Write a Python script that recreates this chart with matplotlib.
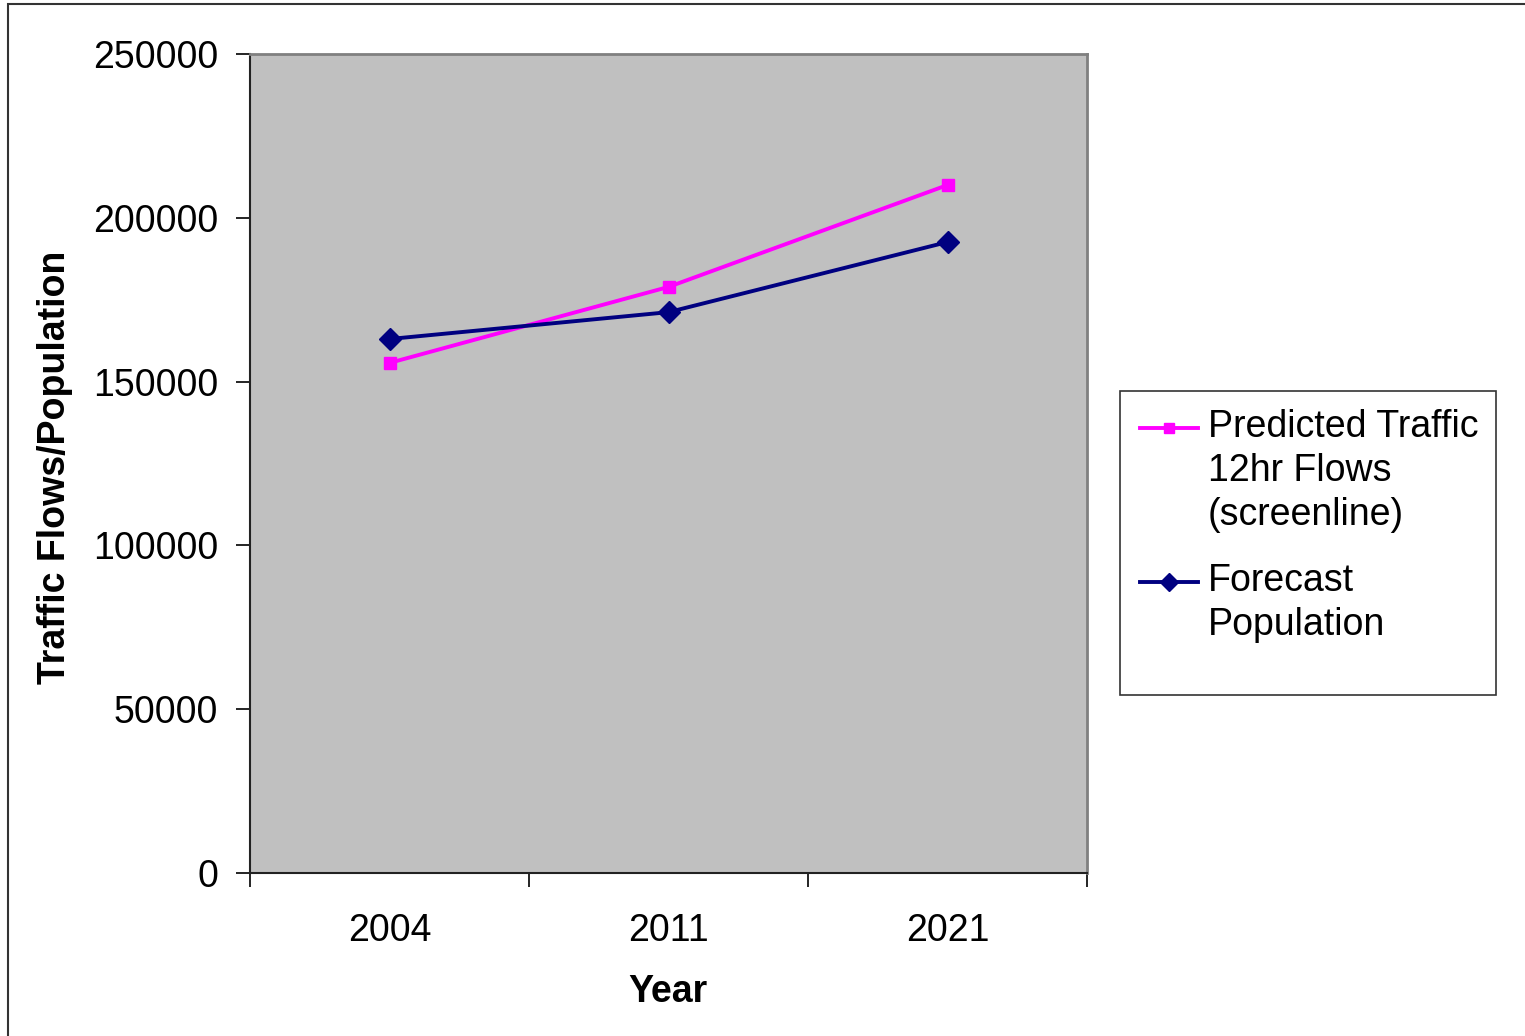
import numpy as np
import matplotlib
matplotlib.use('Agg')
import matplotlib.pyplot as plt
from matplotlib.patches import Rectangle
from matplotlib.legend_handler import HandlerLine2D

plt.rcParams['font.family'] = ['Liberation Sans', 'DejaVu Sans']

## Data
years = ['2004', '2011', '2021']
traffic_flows = [155700, 178900, 210000]
population = [163000, 171200, 192600]
y_ticks = [0, 50000, 100000, 150000, 200000, 250000]

W, H = 1525, 1036
fig = plt.figure(figsize=(W / 100, H / 100), dpi=100, facecolor='white')

# outer chart border (left and top edges visible, rest cut off)
fig.patches.append(Rectangle((8 / W, -0.2), 1.5, 1.2 - 4 / H, transform=fig.transFigure,
                             fill=False, edgecolor='#333333', linewidth=1.5))

ax = fig.add_axes([250 / W, 1 - 873 / H, (1087 - 250) / W, (873 - 54) / H])
ax.set_facecolor('#C0C0C0')

x = np.arange(len(years))
l1, = ax.plot(x, traffic_flows, color='#FF00FF', linewidth=2.8, marker='s', markersize=8.5,
              label='Predicted Traffic\n12hr Flows\n(screenline)')
l2, = ax.plot(x, population, color='#000080', linewidth=2.8, marker='D', markersize=11,
              label='Forecast\nPopulation')

ax.set_xlim(-0.5, len(years) - 0.5)
ax.set_ylim(0, 250000)
ax.set_yticks(y_ticks)
ax.set_yticklabels([str(v) for v in y_ticks])
ax.set_xticks(x)
ax.set_xticklabels(years)
ax.set_xticks(np.arange(len(years) + 1) - 0.5, minor=True)
ax.tick_params(axis='x', which='major', length=0, labelsize=27, pad=29)
ax.tick_params(axis='x', which='minor', length=10, width=1.2, direction='out')
ax.tick_params(axis='y', length=10, width=1.2, labelsize=27, pad=13)

for side in ['top', 'right']:
    ax.spines[side].set_color('#808080')
    ax.spines[side].set_linewidth(2)
for side in ['left', 'bottom']:
    ax.spines[side].set_color('#222222')
    ax.spines[side].set_linewidth(1.5)

fig.text(55 / W, 1 - 467 / H, 'Traffic Flows/Population', rotation=90, fontsize=27,
         fontweight='bold', ha='center', va='center')
fig.text(668 / W, 1 - 992 / H, 'Year', fontsize=27, fontweight='bold',
         ha='center', va='center')


class TopHandler(HandlerLine2D):
    # put the handle on the first text line instead of the block middle
    def __init__(self, nlines, **kw):
        super().__init__(**kw)
        self.nlines = nlines

    def create_artists(self, legend, orig_handle, xdescent, ydescent, width, height, fontsize, trans):
        arts = super().create_artists(legend, orig_handle, xdescent, ydescent, width, height,
                                      fontsize, trans)
        shift = 0.5 * (self.nlines - 1) * 1.16 * fontsize
        for a in arts:
            a.set_ydata(np.asarray(a.get_ydata(), dtype=float) + shift)
        return arts


# legend box
fig.patches.append(Rectangle((1120 / W, 1 - 695 / H), (1496 - 1120) / W, (695 - 391) / H,
                             transform=fig.transFigure, facecolor='white',
                             edgecolor='#333333', linewidth=1.2))
leg = fig.legend(handles=[l1, l2], loc='upper left', bbox_to_anchor=(1140 / W, 1 - 409 / H),
                 frameon=False, fontsize=27, handlelength=1.55, handletextpad=0.25,
                 labelspacing=0.8, borderpad=0, borderaxespad=0, markerscale=0.85,
                 handler_map={l1: TopHandler(3), l2: TopHandler(2)})
for t in leg.get_texts():
    t.set_linespacing(1.28)

fig.savefig('out.png', dpi=100, facecolor='white')
